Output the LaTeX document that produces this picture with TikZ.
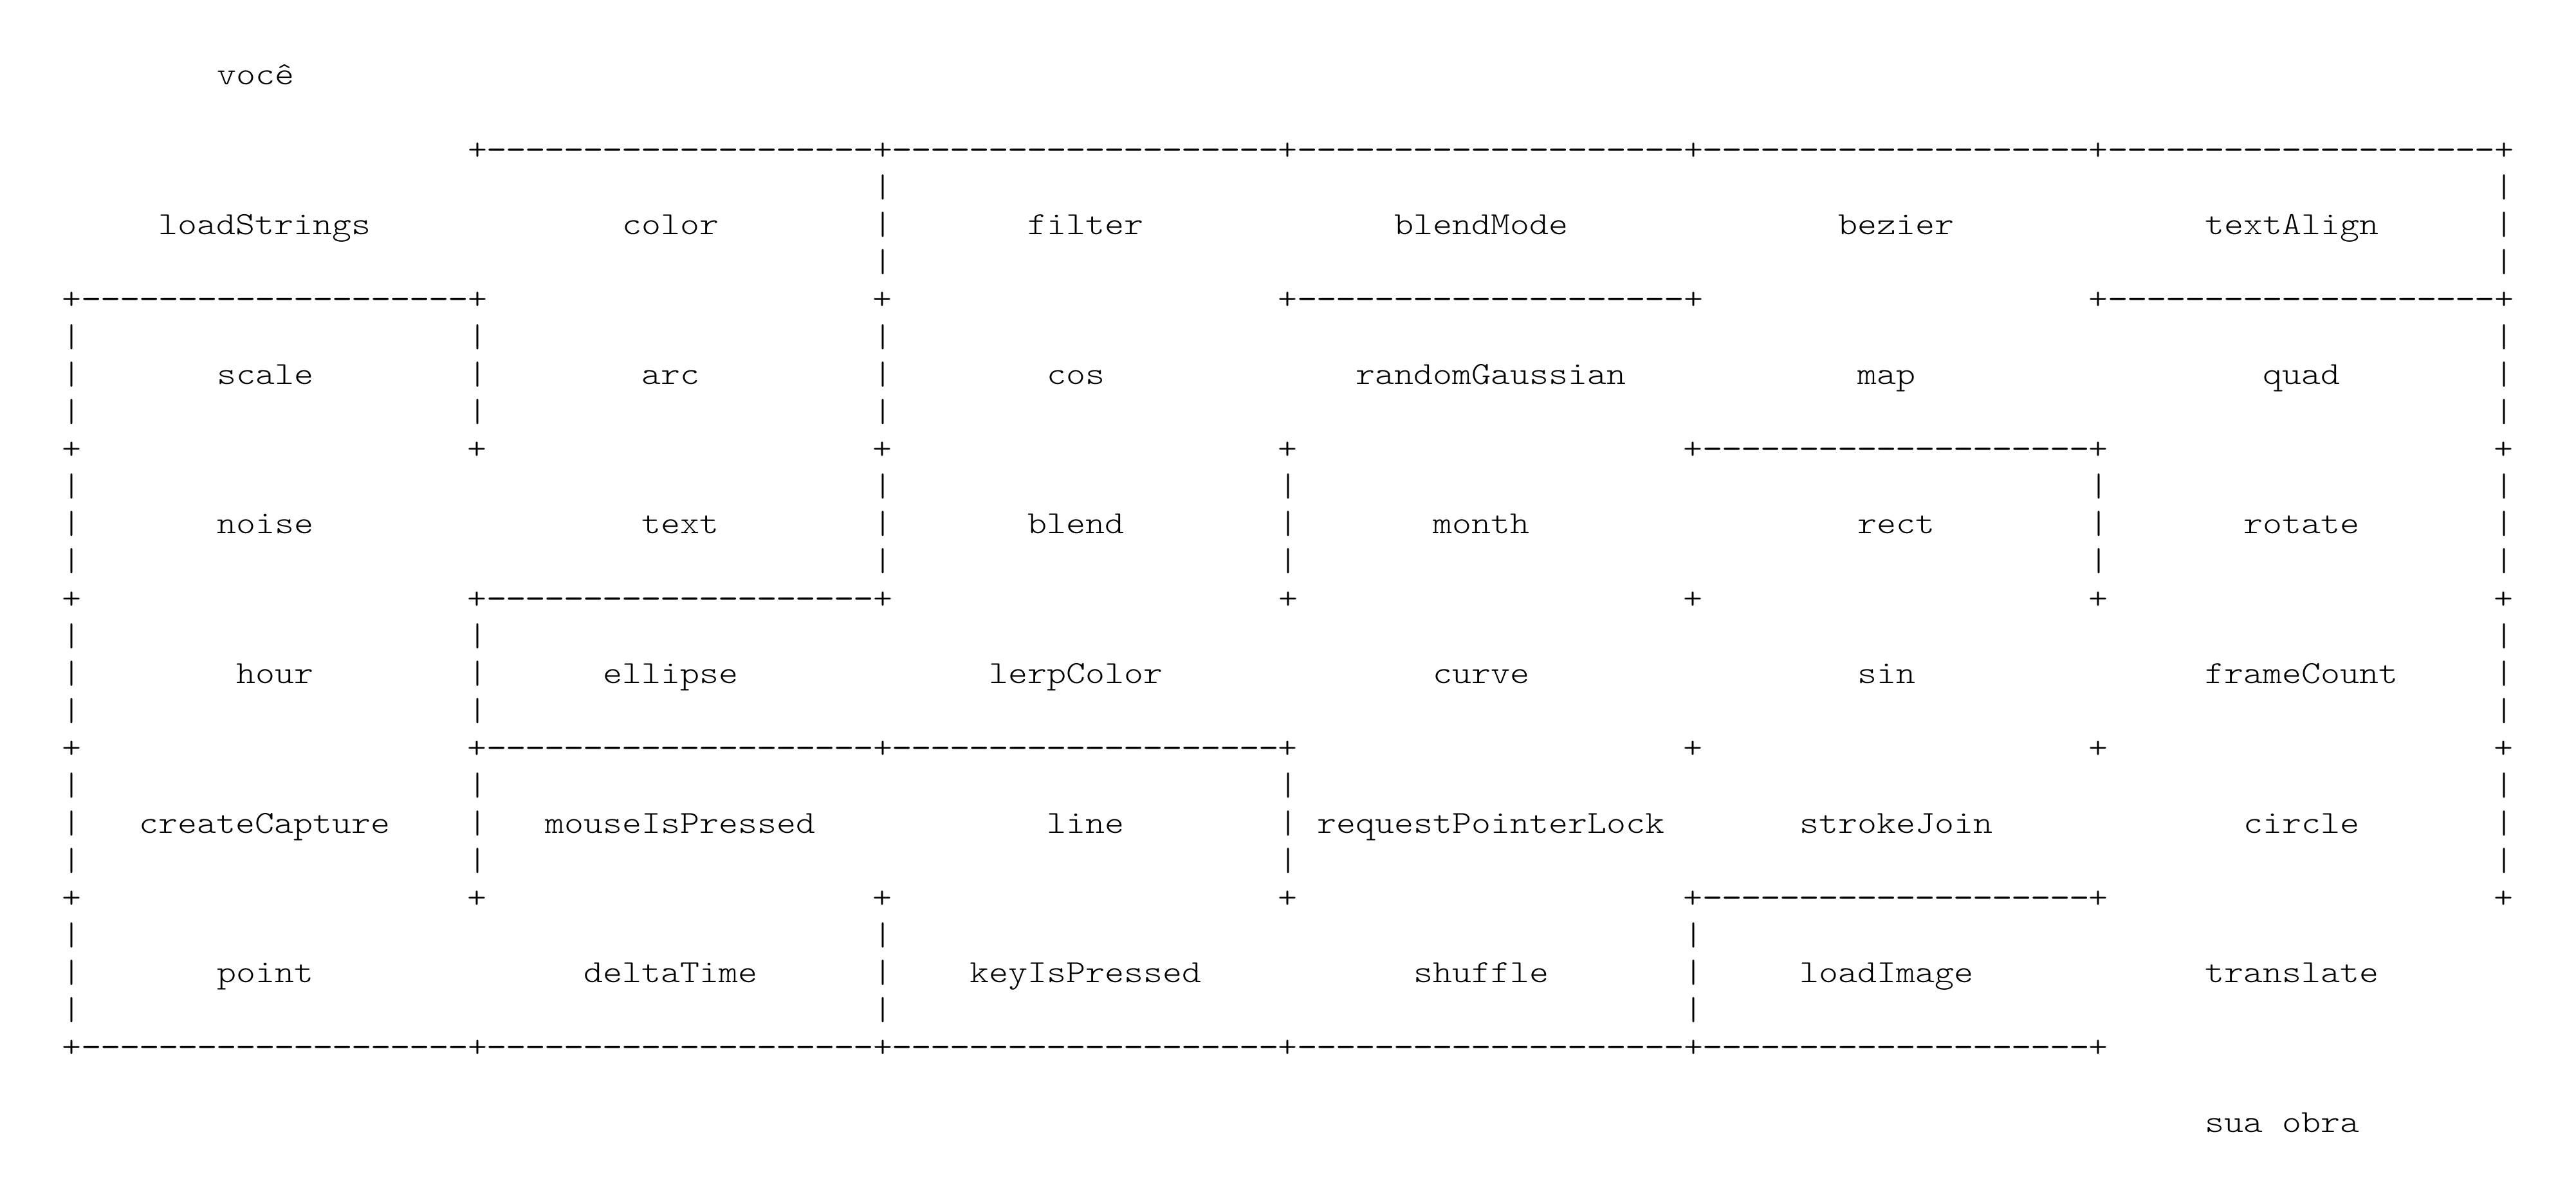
\documentclass[tikz,border=0pt]{standalone}
\usepackage{fontspec}
% thin typewriter face, widened so that one character is 0.6em wide
\newfontfamily\mazefont{lmmonolt10-regular.otf}[FakeStretch=1.142857]
% slightly heavier hyphens for the horizontal walls
\newfontfamily\dashfont{lmmono10-regular.otf}[FakeStretch=1.2]
\newcommand\mazetext{\fontsize{12.5pt}{14.54pt}\mazefont}
% pieces of a separator line, each a whole number of character cells
\newcommand\walldash{\makebox[7.5pt][c]{\dashfont -}}
\newcommand\wallfive{\walldash\walldash\walldash\walldash\walldash}
\newcommand\W{\wallfive\wallfive\wallfive\wallfive}% closed: 20 hyphens
\newcommand\G{\hspace*{150pt}}% open: 20 blank cells
\newcommand\J{\makebox[7.5pt][c]{+}}% grid corner
\newcommand\N{\hspace*{7.5pt}}% missing corner

\tikzset{
  glyph/.style={inner sep=0pt, outer sep=0pt, anchor=base west, font=\mazetext},
  sepline/.style={glyph},
  vbar/.style={glyph},
  fname/.style={glyph},
  caption/.style={glyph},
}

\begin{document}
% one x unit = one character cell, one y unit = one text line (downwards)
\begin{tikzpicture}[x=7.5pt, y=-14.5375pt]
\useasboundingbox (-3.23333,-2.27000) rectangle (130.23333,29.68176);
\fill[white] (-3.23333,-2.27000) rectangle (130.23333,29.68176);

% entrance and exit captions
\node[caption] (start) at (8,0) {você};
\node[caption] (finish) at (111,28) {sua obra};

% separator lines of the 6x6 grid (separator k sits on text line 2+4k)
\node[sepline] (s-0) at (0,2)  {\N\G\J\W\J\W\J\W\J\W\J\W\J};
\node[sepline] (s-1) at (0,6)  {\J\W\J\G\J\G\J\W\J\G\J\W\J};
\node[sepline] (s-2) at (0,10) {\J\G\J\G\J\G\J\G\J\W\J\G\J};
\node[sepline] (s-3) at (0,14) {\J\G\J\W\J\G\J\G\J\G\J\G\J};
\node[sepline] (s-4) at (0,18) {\J\G\J\W\J\W\J\G\J\G\J\G\J};
\node[sepline] (s-5) at (0,22) {\J\G\J\G\J\G\J\G\J\W\J\G\J};
\node[sepline] (s-6) at (0,26) {\J\W\J\W\J\W\J\W\J\W\J\G\N};

% vertical walls: cell row r, boundary j
\foreach \r/\j in {0/2,0/6,
                   1/0,1/1,1/2,1/6,
                   2/0,2/2,2/3,2/5,2/6,
                   3/0,3/1,3/6,
                   4/0,4/1,4/3,4/6,
                   5/0,5/2,5/4} {
  \foreach \i in {1,2,3} {
    \node[vbar] (v-\r-\j-\i) at ({21*\j},{2+4*\r+\i}) {|};
  }
}

% cell names: row, column, first character column, text
\foreach \r/\c/\s/\t in {
    0/0/5/loadStrings, 0/1/29/color, 0/2/50/filter, 0/3/69/blendMode, 0/4/92/bezier, 0/5/111/textAlign,
    1/0/8/scale, 1/1/30/arc, 1/2/51/cos, 1/3/67/randomGaussian, 1/4/93/map, 1/5/114/quad,
    2/0/8/noise, 2/1/30/text, 2/2/50/blend, 2/3/71/month, 2/4/93/rect, 2/5/113/rotate,
    3/0/9/hour, 3/1/28/ellipse, 3/2/48/lerpColor, 3/3/71/curve, 3/4/93/sin, 3/5/111/frameCount,
    4/0/4/createCapture, 4/1/25/mouseIsPressed, 4/2/51/line, 4/3/65/requestPointerLock, 4/4/90/strokeJoin, 4/5/113/circle,
    5/0/8/point, 5/1/27/deltaTime, 5/2/47/keyIsPressed, 5/3/70/shuffle, 5/4/90/loadImage, 5/5/111/translate} {
  \node[fname] (f-\r-\c) at (\s,{4*\r+4}) {\t};
}
\end{tikzpicture}
\end{document}
